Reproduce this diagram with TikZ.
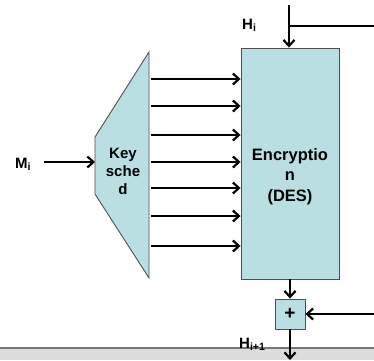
\documentclass[tikz,border=0pt]{standalone}
\usepackage{fontspec}
\setmainfont{Liberation Sans}
\usetikzlibrary{arrows.meta}
\definecolor{boxfill}{RGB}{186,223,227}
\definecolor{boxdraw}{RGB}{80,80,80}
\definecolor{bandfill}{RGB}{220,220,220}
\definecolor{bandline}{RGB}{118,118,118}
\begin{document}
\begin{tikzpicture}[x=1pt,y=-1pt,
  conn/.style={line width=2.2pt,-{Straight Barb[length=6pt,width=11pt,line width=2.2pt]}},
  plainline/.style={line width=2.2pt},
  blockbox/.style={draw=boxdraw,fill=boxfill,line width=0.9pt,inner sep=0pt},
  lbl/.style={font=\bfseries\fontsize{15}{17}\selectfont,inner sep=0pt,align=center}]
\useasboundingbox (0,0) rectangle (374,360);
% bottom band
\fill[bandfill] (0,348) rectangle (374,360);
\draw[bandline,line width=2pt] (0,348) -- (374,348);
% encryption block
\node[blockbox,minimum width=98pt,minimum height=231pt] (enc) at (290,163.5) {};
\node[lbl,font=\bfseries\fontsize{16.5}{20.5}\selectfont,anchor=base] (enctxt) at (290,201) {Encryptio\\n\\(DES)};
% key schedule trapezoid
\draw[draw=boxdraw,fill=boxfill,line width=0.9pt] (95,137) -- (149,52) -- (149,278) -- (95,194) -- cycle;
\node[lbl,font=\bfseries\fontsize{15}{18}\selectfont,anchor=base] (kstxt) at (123,194) {Key\\sche\\d};
\coordinate (ksin) at (95,162);
% plus block
\node[blockbox,minimum width=30pt,minimum height=30pt,font=\bfseries\fontsize{19}{19}\selectfont] (plus) at (290,314) {+};
% labels
\node[lbl,anchor=base west] (mi) at (15,168) {M\textsubscript{i}};
\node[lbl,anchor=base west] (hi) at (242,29) {H\textsubscript{i}};
\node[lbl,anchor=base west] (hi1) at (239,348) {H\textsubscript{i+1}};
% free ends
\coordinate (mstart) at (44,162);
\coordinate (htop) at (289,5);
\coordinate (hright) at (374,26);
\coordinate (hjoin) at (289,26);
\coordinate (fbright) at (374,314);
\coordinate (outend) at (290,360);
% inputs
\draw[conn] (mstart) -- (ksin);
\draw[conn] (htop) -- (enc.north -| htop);
\draw[plainline] (hjoin) -- (hright);
% key schedule arrows
\foreach \yy in {79,106,135,162,188,216,246}{
  \coordinate (ks\yy) at (151,\yy);
  \draw[conn] (ks\yy) -- (ks\yy -| enc.west);
}
% output path
\draw[conn] (enc.south) -- (plus.north);
\draw[conn] (fbright) -- (plus.east);
\draw[conn] (plus.south) -- (outend);
\end{tikzpicture}
\end{document}
